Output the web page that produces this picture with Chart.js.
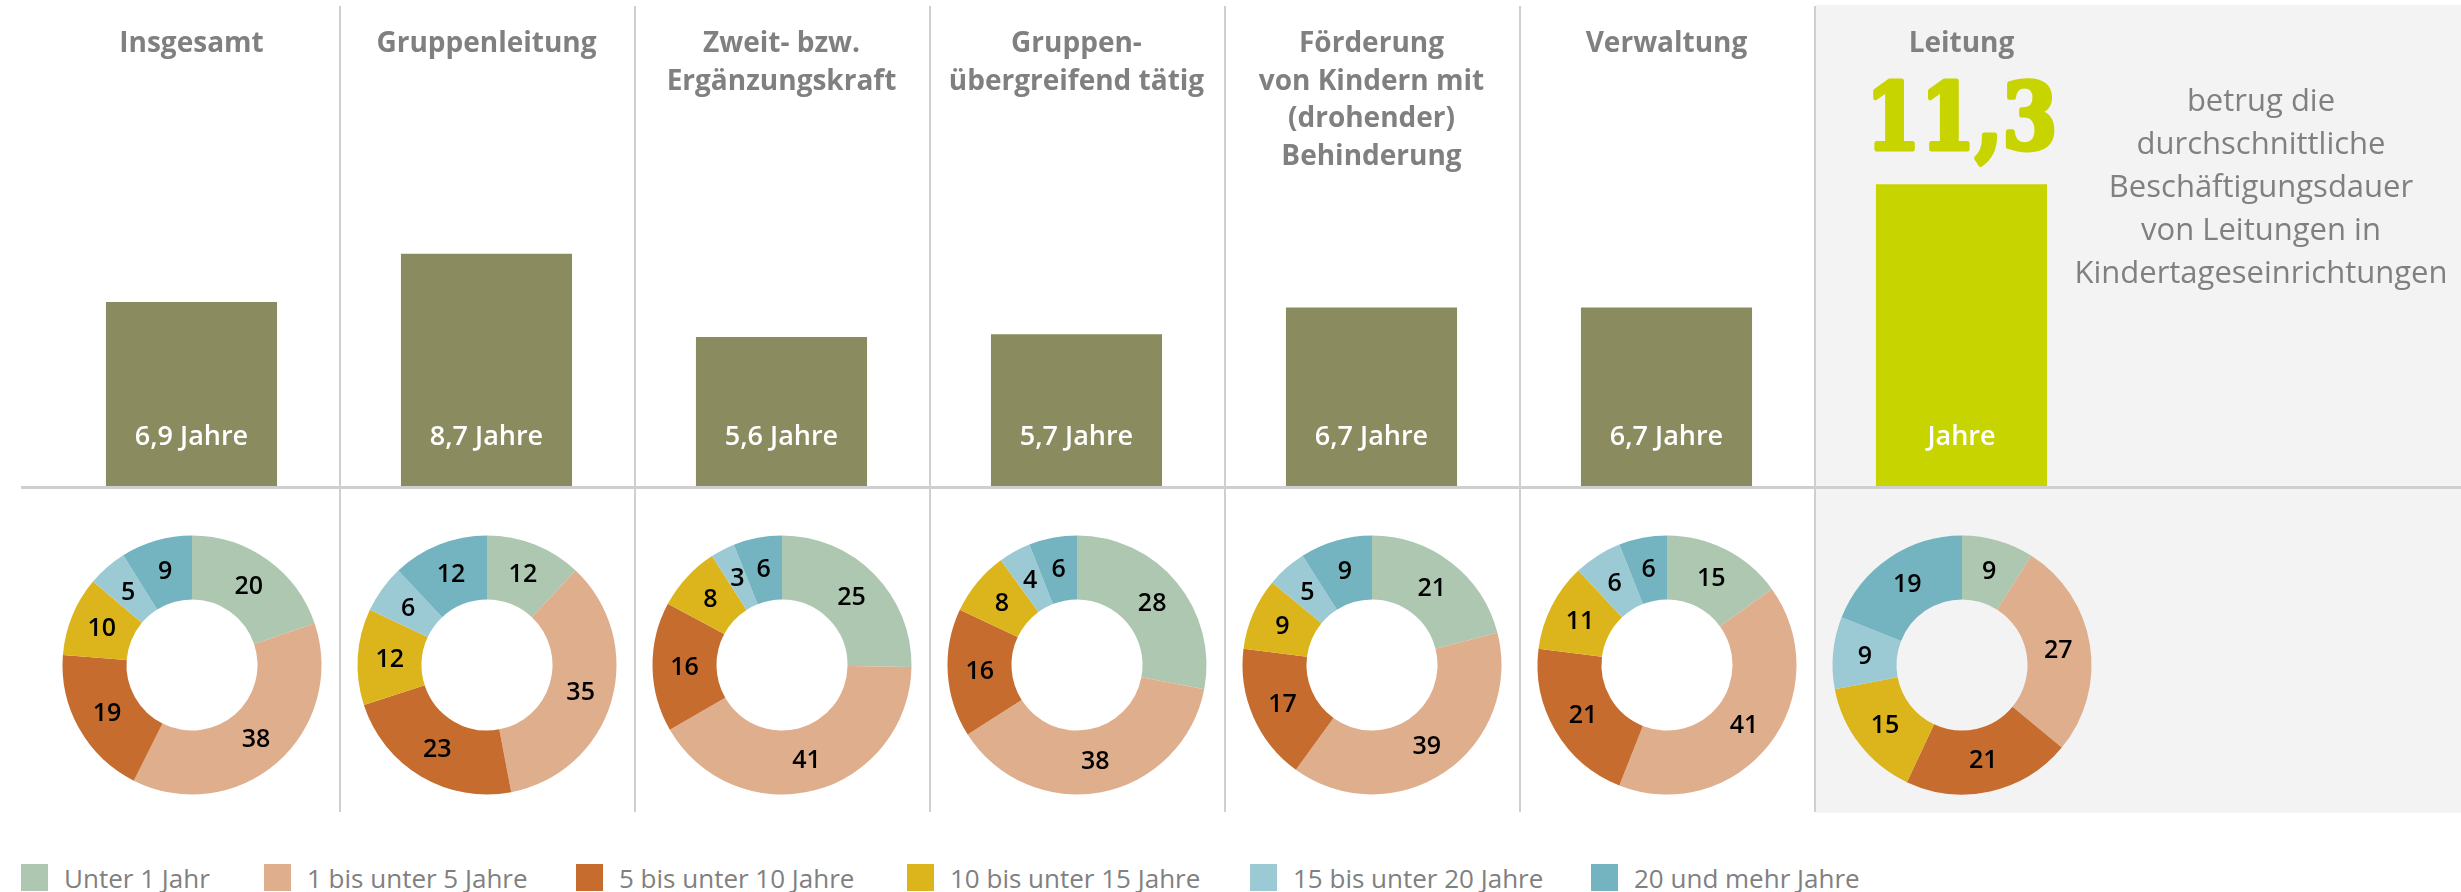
<!DOCTYPE html>
<html><head><meta charset="utf-8">
<script src="https://cdn.jsdelivr.net/npm/chart.js@4.4.1/dist/chart.umd.min.js"></script>
<style>
html,body{margin:0;padding:0;}
body{width:2461px;height:892px;position:relative;overflow:hidden;background:#fff;font-family:"Open Sans",sans-serif;}
.abs{position:absolute;}
.panel{left:1816px;top:5px;width:645px;height:808px;background:#f3f3f3;}
.vline{top:6px;width:2px;height:806px;background:#cfcfcf;}
.hline{left:21px;top:486px;width:2440px;height:3px;background:#cfcfcf;}
.head{top:23px;width:290px;text-align:center;font-weight:700;font-size:28px;line-height:37.7px;color:#808080;white-space:nowrap;}
.note{left:2061px;width:400px;top:78px;text-align:center;font-size:31px;line-height:43px;color:#808080;white-space:nowrap;}
.legend{left:0;top:864px;height:27px;width:2461px;}
.legend .item{position:absolute;top:0;height:27px;display:flex;align-items:center;gap:16px;font-size:26px;color:#808080;white-space:nowrap;}
.legend .sw{width:27px;height:27px;flex:none;}
</style></head>
<body>
<div class="abs panel"></div>
<canvas id="bars" class="abs" style="left:44px;top:0px;" width="2065" height="487"></canvas>
<div class="abs hline"></div>
<div class="abs note">betrug die<br>durchschnittliche<br>Beschäftigungsdauer<br>von Leitungen in<br>Kindertageseinrichtungen</div>
<div class="abs legend" id="legend"></div>
<script>
// ---- data ----
const categories = [
  ["Insgesamt"],
  ["Gruppenleitung"],
  ["Zweit- bzw.", "Ergänzungskraft"],
  ["Gruppen-", "übergreifend tätig"],
  ["Förderung", "von Kindern mit", "(drohender)", "Behinderung"],
  ["Verwaltung"],
  ["Leitung"]
];
const durationYears = [6.9, 8.7, 5.6, 5.7, 6.7, 6.7, 11.3];
const durationGroups = ["Unter 1 Jahr", "1 bis unter 5 Jahre", "5 bis unter 10 Jahre",
  "10 bis unter 15 Jahre", "15 bis unter 20 Jahre", "20 und mehr Jahre"];
const shareInsgesamt      = [20, 38, 19, 10, 5, 9];
const shareGruppenleitung = [12, 35, 23, 12, 6, 12];
const shareZweitkraft     = [25, 41, 16, 8, 3, 6];
const shareUebergreifend  = [28, 38, 16, 8, 4, 6];
const shareFoerderung     = [21, 39, 17, 9, 5, 9];
const shareVerwaltung     = [15, 41, 21, 11, 6, 6];
const shareLeitung        = [9, 27, 21, 15, 9, 19];
const shares = [shareInsgesamt, shareGruppenleitung, shareZweitkraft, shareUebergreifend,
  shareFoerderung, shareVerwaltung, shareLeitung];

// ---- styles ----
const groupColors = ["#aec7b0", "#dfae8c", "#c56c2e", "#dbb51b", "#9bc9d4", "#74b3c0"];
const barColor = "#8a8b5e";
const highlightColor = "#c8d400";
const highlightIndex = 6;
const legendLefts = [21, 264, 576, 907, 1250, 1591];
const fmt = v => v.toLocaleString("de-DE", {minimumFractionDigits: 1, maximumFractionDigits: 1});
const FONT = '"Open Sans", sans-serif';

Chart.defaults.font.family = FONT;

const barLabelPlugin = {
  id: "barLabels",
  afterDatasetsDraw(chart) {
    const ctx = chart.ctx;
    const meta = chart.getDatasetMeta(0);
    ctx.save();
    ctx.textAlign = "center";
    ctx.textBaseline = "middle";
    meta.data.forEach((bar, i) => {
      const v = chart.data.datasets[0].data[i];
      ctx.fillStyle = "#ffffff";
      ctx.font = "600 27px " + FONT;
      const txt = i === highlightIndex ? "Jahre" : fmt(v) + " Jahre";
      ctx.fillText(txt, bar.x, bar.base - 50);
      if (i === highlightIndex) {
        ctx.save();
        ctx.fillStyle = highlightColor;
        ctx.strokeStyle = highlightColor;
        ctx.lineJoin = "round";
        ctx.lineWidth = 5;
        ctx.font = "bold 92px 'DejaVu Serif', serif";
        ctx.textBaseline = "alphabetic";
        const s = fmt(v);
        const m = ctx.measureText(s);
        const gw = m.actualBoundingBoxLeft + m.actualBoundingBoxRight;
        const sx = 178 / gw;
        ctx.translate(bar.x, bar.y - 35);
        ctx.scale(sx, 1);
        ctx.fillText(s, 0, 0);
        ctx.strokeText(s, 0, 0);
        ctx.restore();
      }
    });
    ctx.restore();
  }
};

const barChart = new Chart(document.getElementById("bars"), {
  type: "bar",
  data: {
    labels: categories,
    datasets: [{
      data: durationYears,
      backgroundColor: durationYears.map((v, i) => i === highlightIndex ? highlightColor : barColor),
      borderWidth: 0,
      categoryPercentage: 1,
      barPercentage: 0.58
    }]
  },
  options: {
    responsive: false, animation: false, devicePixelRatio: 1, events: [],
    layout: {padding: {top: 85, left: 0, right: 0, bottom: 0}},
    plugins: {legend: {display: false}, tooltip: {enabled: false}},
    scales: {
      x: {display: false},
      y: {display: false, min: 0, max: 15}
    }
  },
  plugins: [barLabelPlugin]
});

// column geometry derived from the bar chart's category scale
const canvasLeft = 44;
const xs = barChart.scales.x;
const colW = xs.getPixelForValue(1) - xs.getPixelForValue(0);
const centers = categories.map((c, i) => canvasLeft + xs.getPixelForValue(i));

// dividers
for (let i = 1; i < categories.length; i++) {
  const d = document.createElement("div");
  d.className = "abs vline";
  d.style.left = (centers[i] - colW / 2) + "px";
  document.body.appendChild(d);
}
// headers
categories.forEach((lines, i) => {
  const h = document.createElement("div");
  h.className = "abs head";
  h.style.left = (centers[i] - 145) + "px";
  h.innerHTML = lines.join("<br>");
  document.body.appendChild(h);
});

// doughnuts
const arcLabelPlugin = {
  id: "arcLabels",
  afterDatasetsDraw(chart) {
    const ctx = chart.ctx;
    ctx.save();
    ctx.fillStyle = "#000000";
    ctx.font = "600 25px " + FONT;
    ctx.textAlign = "center";
    ctx.textBaseline = "middle";
    chart.getDatasetMeta(0).data.forEach((arc, i) => {
      const p = arc.tooltipPosition();
      ctx.fillText(String(chart.data.datasets[0].data[i]), p.x, p.y + 1);
    });
    ctx.restore();
  }
};
shares.forEach((vals, i) => {
  const c = document.createElement("canvas");
  c.width = 300; c.height = 300;
  c.className = "abs";
  c.style.left = (centers[i] - 150) + "px";
  c.style.top = "515px";
  document.body.appendChild(c);
  new Chart(c, {
    type: "doughnut",
    data: {
      labels: durationGroups,
      datasets: [{data: vals, backgroundColor: groupColors, borderWidth: 0, radius: 129.5, cutout: "50.6%"}]
    },
    options: {
      responsive: false, animation: false, devicePixelRatio: 1, events: [],
      plugins: {legend: {display: false}, tooltip: {enabled: false}}
    },
    plugins: [arcLabelPlugin]
  });
});

// legend
const lg = document.getElementById("legend");
durationGroups.forEach((g, i) => {
  const it = document.createElement("div");
  it.className = "item";
  it.style.left = legendLefts[i] + "px";
  it.innerHTML = '<span class="sw" style="background:' + groupColors[i] + '"></span><span>' + g + '</span>';
  lg.appendChild(it);
});
</script>
</body></html>
